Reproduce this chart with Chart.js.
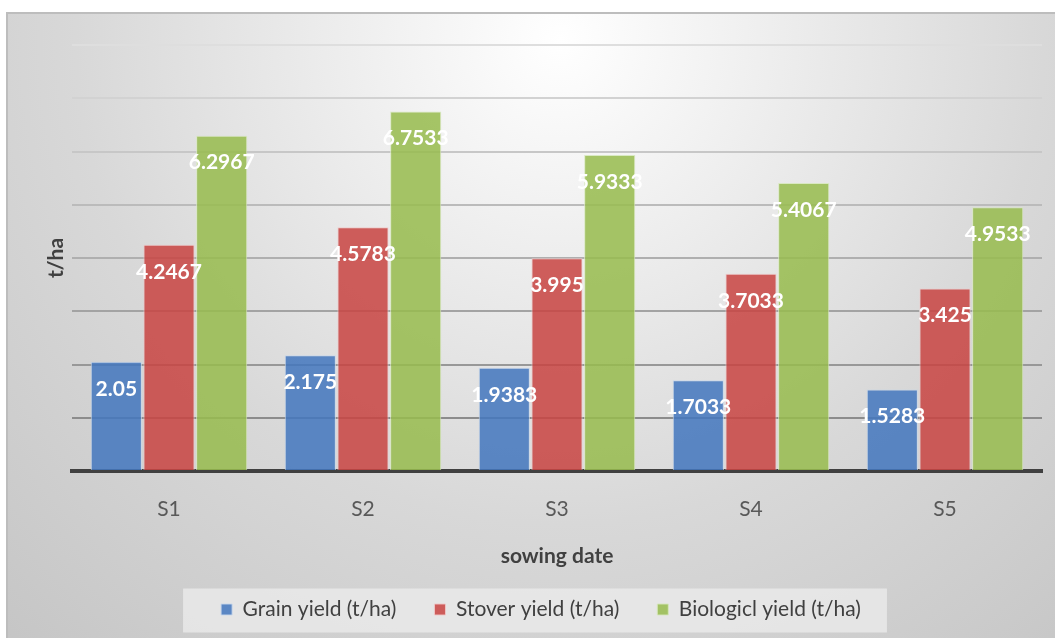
<!DOCTYPE html>
<html>
<head>
<meta charset="utf-8">
<script src="https://cdn.jsdelivr.net/npm/chart.js@4/dist/chart.umd.min.js"></script>
<style>
  html, body { margin: 0; padding: 0; background: #ffffff; }
  #wrap { width: 1055px; height: 638px; position: relative; }
</style>
</head>
<body>
<div id="wrap"><canvas id="yieldChart"></canvas></div>
<script>
// Sowing dates and yields (t/ha)
const categories = ['S1', 'S2', 'S3', 'S4', 'S5'];
const grainYield = [2.05, 2.175, 1.9383, 1.7033, 1.5283];
const stoverYield = [4.2467, 4.5783, 3.995, 3.7033, 3.425];
const biologicalYield = [6.2967, 6.7533, 5.9333, 5.4067, 4.9533];
const seriesNames = ['Grain yield (t/ha)', 'Stover yield (t/ha)', 'Biologicl yield (t/ha)'];
const yAxisMin = 0;
const yAxisMax = 8;
const yAxisStep = 1;

const FONT = "Lato, 'Open Sans', 'Noto Sans', sans-serif";

// Gridlines fade from dark near the base to light near the top
function gridShade(value) {
  const t = (value - yAxisMin) / (yAxisMax - yAxisMin);
  const g = Math.round(128 + t * (222 - 128));
  return `rgb(${g},${g},${g})`;
}

// Soft grey panel behind the chart, plus the legend tray
const panelBackground = {
  id: 'panelBackground',
  beforeDraw(chart) {
    const { ctx, width, height } = chart;
    ctx.save();
    ctx.fillStyle = '#ffffff';
    ctx.fillRect(0, 0, width, height);
    const grad = ctx.createRadialGradient(560, 40, 0, 560, 40, 880);
    grad.addColorStop(0, '#ffffff');
    grad.addColorStop(0.55, '#d8d8d8');
    grad.addColorStop(1, '#c2c2c2');
    ctx.fillStyle = grad;
    ctx.fillRect(7, 13, width - 7, height - 13);
    ctx.strokeStyle = '#bdbdbd';
    ctx.lineWidth = 2;
    ctx.beginPath();
    ctx.moveTo(7, height + 2);
    ctx.lineTo(7, 13);
    ctx.lineTo(width + 2, 13);
    ctx.stroke();

    const legend = chart.legend;
    if (legend && legend.legendHitBoxes && legend.legendHitBoxes.length) {
      const boxes = legend.legendHitBoxes;
      const first = boxes[0];
      const last = boxes[boxes.length - 1];
      const cy = first.top + first.height / 2;
      const left = first.left - 38;
      const right = last.left + last.width + 26;
      ctx.fillStyle = 'rgba(236,236,236,0.75)';
      ctx.fillRect(left, cy - 21, right - left, 44);
    }
    ctx.restore();
  }
};

// White value labels just inside the top of each bar
const barValueLabels = {
  id: 'barValueLabels',
  afterDatasetsDraw(chart) {
    const { ctx } = chart;
    ctx.save();
    ctx.font = `bold 21px ${FONT}`;
    ctx.fillStyle = '#ffffff';
    ctx.textAlign = 'center';
    ctx.textBaseline = 'middle';
    chart.data.datasets.forEach((ds, di) => {
      const meta = chart.getDatasetMeta(di);
      meta.data.forEach((bar, i) => {
        ctx.fillText(String(ds.data[i]), bar.x, bar.y + 27);
      });
    });
    ctx.restore();
  }
};

new Chart(document.getElementById('yieldChart'), {
  type: 'bar',
  data: {
    labels: categories,
    datasets: [
      {
        label: seriesNames[0],
        data: grainYield,
        backgroundColor: 'rgba(68,119,190,0.86)',
        borderColor: 'rgba(200,215,235,0.9)',
        borderWidth: 1
      },
      {
        label: seriesNames[1],
        data: stoverYield,
        backgroundColor: 'rgba(200,69,66,0.86)',
        borderColor: 'rgba(240,200,200,0.9)',
        borderWidth: 1
      },
      {
        label: seriesNames[2],
        data: biologicalYield,
        backgroundColor: 'rgba(151,188,78,0.86)',
        borderColor: 'rgba(215,232,190,0.9)',
        borderWidth: 1
      }
    ]
  },
  options: {
    responsive: true,
    maintainAspectRatio: false,
    animation: false,
    devicePixelRatio: 1,
    layout: { padding: { left: 40, top: 45, right: 13, bottom: 8 } },
    datasets: {
      bar: { categoryPercentage: 0.815, barPercentage: 0.97 }
    },
    scales: {
      x: {
        z: 1,
        grid: { display: false, drawTicks: false },
        border: { display: true, color: '#404040', width: 4 },
        ticks: {
          color: '#595959',
          padding: 26,
          font: { family: FONT, size: 21 }
        },
        title: {
          display: true,
          text: 'sowing date',
          color: '#404040',
          font: { family: FONT, size: 21, weight: 'bold' },
          padding: { top: 0, bottom: -8 }
        },
        afterFit(scale) { scale.height = 90; }
      },
      y: {
        min: yAxisMin,
        max: yAxisMax,
        ticks: { stepSize: yAxisStep, display: false },
        grid: {
          drawTicks: false,
          lineWidth: 2,
          color: (c) => gridShade(c.tick ? c.tick.value : 0)
        },
        border: { display: false },
        title: {
          display: true,
          text: 't/ha',
          color: '#404040',
          font: { family: FONT, size: 21, weight: 'bold' },
          padding: { top: 4, bottom: 0 }
        },
        afterFit(scale) { scale.width = 32; }
      }
    },
    plugins: {
      legend: {
        position: 'bottom',
        labels: {
          color: '#404040',
          boxWidth: 11,
          boxHeight: 11,
          padding: 38,
          font: { family: FONT, size: 21 }
        }
      },
      tooltip: { enabled: false }
    }
  },
  plugins: [panelBackground, barValueLabels]
});
</script>
</body>
</html>
